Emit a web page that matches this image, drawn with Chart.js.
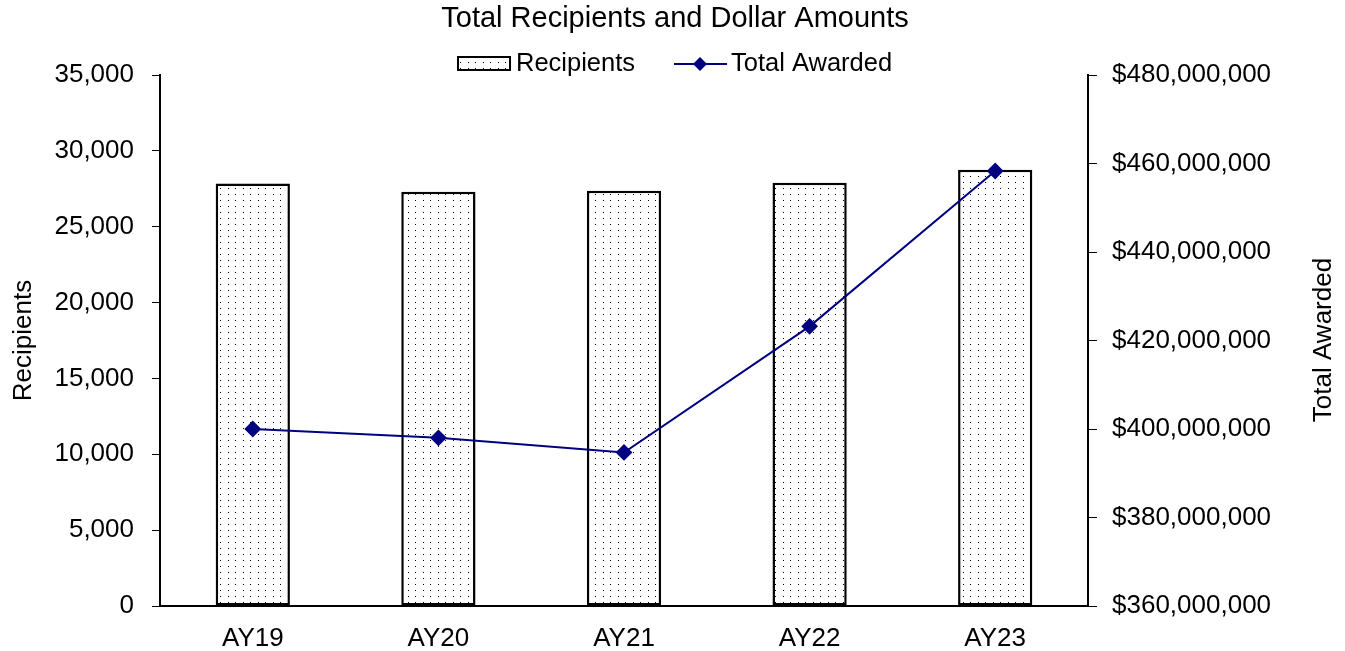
<!DOCTYPE html>
<html>
<head>
<meta charset="utf-8">
<script src="https://cdn.jsdelivr.net/npm/chart.js@4.4.1/dist/chart.umd.min.js"></script>
<style>
  html, body { margin: 0; padding: 0; background: #fff; }
  #wrap { width: 1345px; height: 651px; position: relative; }
</style>
</head>
<body>
<div id="wrap"><canvas id="c" width="1345" height="651"></canvas></div>
<script>
const categories = ['AY19', 'AY20', 'AY21', 'AY22', 'AY23'];
const recipients = [27850, 27300, 27370, 27900, 28750];
const totalAwarded = [400000000, 398000000, 394700000, 423200000, 458300000];
const leftTicks = { min: 0, max: 35000, step: 5000 };
const rightTicks = { min: 360000000, max: 480000000, step: 20000000 };

const FONT = "'Liberation Sans', Arial, sans-serif";
const NAVY = '#000080';
const FS = 26;

function makePattern() {
  const p = document.createElement('canvas');
  p.width = 15; p.height = 6;
  const g = p.getContext('2d');
  g.fillStyle = '#fff';
  g.fillRect(0, 0, 15, 6);
  g.fillStyle = '#000';
  g.fillRect(3, 2, 1, 1);
  g.fillRect(10, 2, 1, 1);
  return g.createPattern(p, 'repeat');
}
const pattern = makePattern();

const overlay = {
  id: 'overlay',
  afterDraw(chart) {
    const ctx = chart.ctx;
    ctx.save();
    ctx.fillStyle = '#000';
    ctx.textBaseline = 'middle';
    // title
    ctx.font = '29px ' + FONT;
    ctx.textAlign = 'center';
    ctx.fillText('Total Recipients and Dollar Amounts', 675, 19);
    // legend
    ctx.fillStyle = pattern;
    ctx.fillRect(458, 57, 52, 13);
    ctx.strokeStyle = '#000';
    ctx.lineWidth = 2;
    ctx.strokeRect(458, 57, 52, 13);
    ctx.fillStyle = '#000';
    ctx.font = '25.5px ' + FONT;
    ctx.textAlign = 'left';
    ctx.fillText('Recipients', 516, 64);
    ctx.strokeStyle = NAVY;
    ctx.lineWidth = 2;
    ctx.beginPath();
    ctx.moveTo(674, 64); ctx.lineTo(727, 64);
    ctx.stroke();
    ctx.fillStyle = NAVY;
    ctx.beginPath();
    ctx.moveTo(700, 57); ctx.lineTo(707, 64); ctx.lineTo(700, 71); ctx.lineTo(693, 64);
    ctx.closePath(); ctx.fill();
    ctx.fillStyle = '#000';
    ctx.fillText('Total Awarded', 731, 64);
    // right axis title (bottom to top)
    ctx.font = FS + 'px ' + FONT;
    ctx.translate(1324, 340);
    ctx.rotate(-Math.PI / 2);
    ctx.textAlign = 'center';
    ctx.fillText('Total Awarded', 0, 0);
    ctx.restore();
  }
};

new Chart(document.getElementById('c'), {
  data: {
    labels: categories,
    datasets: [
      {
        type: 'line',
        label: 'Total Awarded',
        data: totalAwarded,
        yAxisID: 'y2',
        borderColor: NAVY,
        backgroundColor: NAVY,
        borderWidth: 2,
        pointStyle: 'rectRot',
        pointRadius: 7,
        pointHoverRadius: 7,
        tension: 0,
        order: 0
      },
      {
        type: 'bar',
        label: 'Recipients',
        data: recipients,
        yAxisID: 'y',
        backgroundColor: pattern,
        borderColor: '#000',
        borderWidth: 2.5,
        borderSkipped: false,
        categoryPercentage: 1,
        barPercentage: 0.4,
        order: 1
      }
    ]
  },
  options: {
    responsive: false,
    animation: false,
    layout: { padding: { top: 75, left: 0, right: 0, bottom: 0 } },
    plugins: { legend: { display: false }, title: { display: false }, tooltip: { enabled: false } },
    scales: {
      x: {
        offset: true,
        grid: { display: false },
        border: { display: true, color: '#000', width: 2 },
        ticks: { color: '#000', font: { family: FONT, size: FS }, padding: 9 },
        afterFit(s) { s.height = 45; }
      },
      y: {
        position: 'left',
        min: leftTicks.min, max: leftTicks.max,
        grid: { drawOnChartArea: false, drawTicks: true, tickLength: 8, color: '#000', lineWidth: 1 },
        border: { display: true, color: '#000', width: 2 },
        ticks: {
          stepSize: leftTicks.step, color: '#000', padding: 18,
          font: { family: FONT, size: FS },
          callback: v => v.toLocaleString('en-US')
        },
        title: { display: true, text: 'Recipients', color: '#000', font: { family: FONT, size: FS }, padding: { top: 8, bottom: 0 } },
        afterFit(s) { s.width = 160; }
      },
      y2: {
        position: 'right',
        min: rightTicks.min, max: rightTicks.max,
        grid: { drawOnChartArea: false, drawTicks: true, tickLength: 9, color: '#000', lineWidth: 1 },
        border: { display: true, color: '#000', width: 2 },
        ticks: {
          stepSize: rightTicks.step, color: '#000', padding: 15,
          font: { family: FONT, size: FS },
          callback: v => '$' + v.toLocaleString('en-US')
        },
        afterFit(s) { s.width = 257; }
      }
    }
  },
  plugins: [overlay]
});
</script>
</body>
</html>
